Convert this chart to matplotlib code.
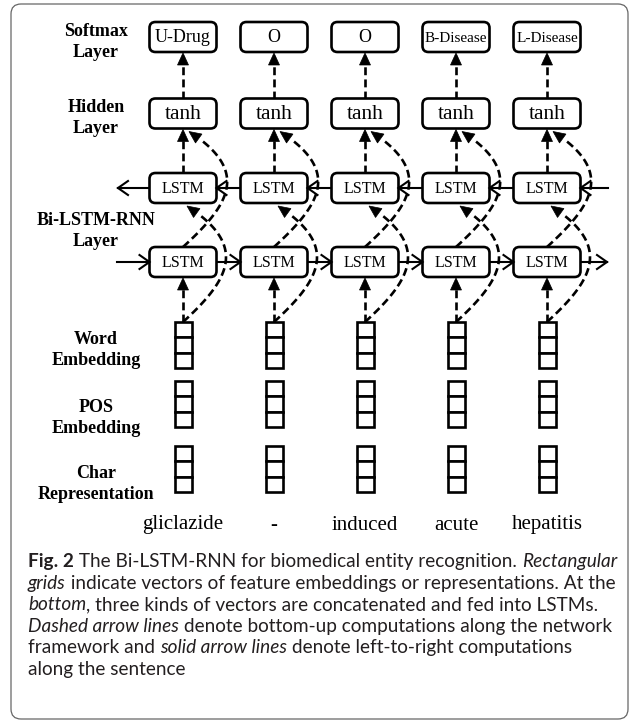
import numpy as np
import matplotlib.pyplot as plt
from matplotlib.patches import FancyBboxPatch, Rectangle, Polygon

# content
words = ["gliclazide", "-", "induced", "acute", "hepatitis"]
tags = ["U-Drug", "O", "O", "B-Disease", "L-Disease"]
hidden = ["tanh", "tanh", "tanh", "tanh", "tanh"]
cell_name = "LSTM"
layer_labels = ["Softmax\nLayer", "Hidden\nLayer", "Bi-LSTM-RNN\nLayer",
                "Word\nEmbedding", "POS\nEmbedding", "Char\nRepresentation"]
caption = [
    [("Fig. 2", "b"), (" The Bi-LSTM-RNN for biomedical entity recognition. ", "r"),
     ("Rectangular", "i")],
    [("grids", "i"), (" indicate vectors of feature embeddings or representations. At the", "r")],
    [("bottom", "i"), (", three kinds of vectors are concatenated and fed into LSTMs.", "r")],
    [("Dashed arrow lines", "i"), (" denote bottom-up computations along the network", "r")],
    [("framework and ", "r"), ("solid arrow lines", "i"),
     (" denote left-to-right computations", "r")],
    [("along the sentence", "r")],
]

# layout (pixels, y down)
W, H = 633, 721
col_x = [183 + 91 * i for i in range(len(words))]
soft_y, hid_y, up_y, lo_y = 37, 113.5, 188, 262
bw, bh = 67, 30
vec_tops = [322, 381, 446]
cell_h, vec_w = 15.3, 17
word_y = 525
label_x = 96
label_y = [42, 118, 231, 350, 418, 484]

SERIF = "Liberation Serif"
CAP_FONT = "Lato"
CAP_COLOR = "#231f20"
LW = 1.9

fig = plt.figure(figsize=(W / 100, H / 100), dpi=100)
ax = fig.add_axes([0, 0, 1, 1])
ax.set_xlim(0, W)
ax.set_ylim(H, 0)
ax.axis("off")

# outer frame
ax.add_patch(FancyBboxPatch((11, 4), 617, 715, boxstyle="round,pad=0,rounding_size=10",
                            fc="white", ec="#666666", lw=0.9))


def rbox(cx, cy, text, fs):
    ax.add_patch(FancyBboxPatch((cx - bw / 2, cy - bh / 2), bw, bh,
                                boxstyle="round,pad=0,rounding_size=6",
                                fc="white", ec="black", lw=LW, zorder=3))
    ax.text(cx, cy + 1, text, family=SERIF, fontsize=fs, ha="center", va="center", zorder=4)


def head(tip, frm, length=12, half=5.5):
    d = np.array(tip, float) - np.array(frm, float)
    d /= np.hypot(*d)
    n = np.array([-d[1], d[0]])
    base = np.array(tip) - d * length
    ax.add_patch(Polygon([tip, base + n * half, base - n * half], closed=True,
                         fc="black", ec="black", lw=0.5, zorder=5))


def dashed(pts):
    pts = np.array(pts, float)
    t = np.linspace(0, 1, 80)[:, None]
    if len(pts) == 2:
        curve = pts[0] + t * (pts[1] - pts[0])
    else:
        p0, p1, p2, p3 = pts
        curve = ((1 - t) ** 3 * p0 + 3 * (1 - t) ** 2 * t * p1
                 + 3 * (1 - t) * t ** 2 * p2 + t ** 3 * p3)
    ax.plot(curve[:-6, 0], curve[:-6, 1], color="black", lw=LW, dashes=(3.0, 1.6),
            solid_capstyle="butt", dash_capstyle="butt", zorder=2)
    head(curve[-1], curve[-8])


def solid(x0, x1, y):
    ax.plot([x0, x1], [y, y], color="black", lw=1.5, zorder=2)
    s = np.sign(x1 - x0)
    ax.plot([x1 - s * 10, x1, x1 - s * 10], [y - 7, y, y + 7], color="black", lw=1.5,
            solid_joinstyle="miter", zorder=6)


for i, cx in enumerate(col_x):
    rbox(cx, soft_y, tags[i], 13 if len(tags[i]) < 8 else 11)
    rbox(cx, hid_y, hidden[i], 15.5)
    rbox(cx, up_y, cell_name, 11.5)
    rbox(cx, lo_y, cell_name, 11.5)

    # straight bottom-up arrows
    dashed([(cx, hid_y - bh / 2), (cx, soft_y + bh / 2 + 1)])
    dashed([(cx, up_y - bh / 2), (cx, hid_y + bh / 2 + 1)])
    dashed([(cx, vec_tops[0]), (cx, lo_y + bh / 2 + 1)])
    # curved arrows
    p0 = (cx, lo_y - bh / 2)
    p3 = (cx + 6, hid_y + bh / 2 + 3)
    dashed([p0, (p0[0] + 46, p0[1] - 42), (p3[0] + 62, p3[1] + 40), p3])
    p0 = (cx, vec_tops[0])
    p3 = (cx + 4, up_y + bh / 2 + 3)
    dashed([p0, (p0[0] + 46, p0[1] - 42), (p3[0] + 62, p3[1] + 40), p3])

    # feature vectors
    for top in vec_tops:
        for k in range(3):
            ax.add_patch(Rectangle((cx - vec_w / 2, top + k * cell_h), vec_w, cell_h,
                                   fc="white", ec="black", lw=LW, zorder=3))
    ax.text(cx, word_y, words[i], family=SERIF, fontsize=15, ha="center", va="center")

# recurrent arrows
for i in range(len(col_x) + 1):
    left = col_x[i - 1] + bw / 2 if i > 0 else 117
    right = col_x[i] - bw / 2 if i < len(col_x) else 607
    solid(left, right, lo_y)
    solid(right if i < len(col_x) else 608, left if i > 0 else 118, up_y)

for lab, y in zip(layer_labels, label_y):
    ax.text(label_x, y, lab, family=SERIF, fontweight="bold", fontsize=13,
            ha="center", va="center", linespacing=1.3)

# caption
renderer = fig.canvas.get_renderer()


def text_w(s, fs, st):
    kw = dict(family=CAP_FONT, fontsize=fs,
              fontweight="bold" if st == "b" else "normal",
              fontstyle="italic" if st == "i" else "normal")
    a = ax.text(0, 0, s + "x", **kw)
    b = ax.text(0, 0, "x", **kw)
    w = a.get_window_extent(renderer).width - b.get_window_extent(renderer).width
    a.remove()
    b.remove()
    return w


def run_line(x, y, runs, fs, draw=True):
    start = x
    for s, st in runs:
        if draw:
            ax.text(x, y, s, family=CAP_FONT, fontsize=fs, color=CAP_COLOR,
                    fontweight="bold" if st == "b" else "normal",
                    fontstyle="italic" if st == "i" else "normal",
                    ha="left", va="baseline")
        x += text_w(s, fs, st)
    return x - start


w = run_line(0, 0, caption[3], 12, draw=False)
cap_fs = 12 * 584 / w
for j, runs in enumerate(caption):
    run_line(28, 567 + 21.6 * j, runs, cap_fs)

fig.savefig("out.png", dpi=100)
